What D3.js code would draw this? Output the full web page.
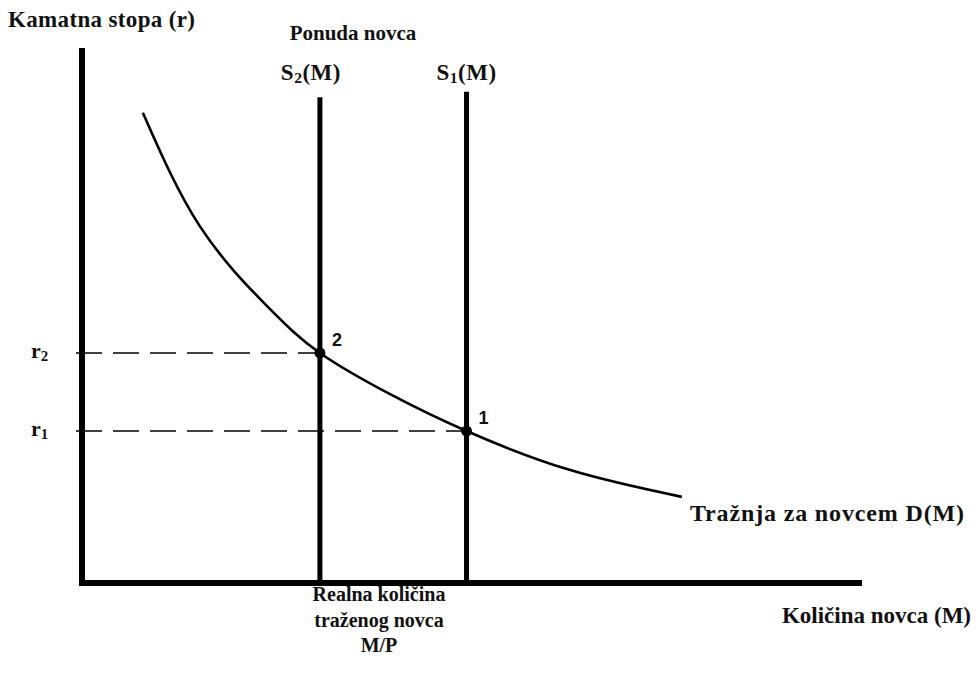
<!DOCTYPE html>
<html>
<head>
<meta charset="utf-8">
<script src="https://cdn.jsdelivr.net/npm/d3@7"></script>
<style>
  body { margin: 0; background: #fff; }
  svg { display: block; }
  text { font-family: "Liberation Serif", "Times New Roman", serif; font-weight: bold; fill: #111; }
</style>
</head>
<body>
<svg id="chart"></svg>
<script>
const W = 976;
const H = 680;

// money demand curve D(M) (quantity, rate)
const demandX = [0.78, 1.51, 2.37, 3.05, 3.95, 4.93, 6.26, 7.69];
const demandY = [8.79, 6.67, 5.18, 4.30, 3.53, 2.84, 2.11, 1.61];

// money supply lines
const supplyNames = ["S2(M)", "S1(M)"];
const supplyX = [3.05, 4.93];
const supplyTop = [9.08, 9.18];

// equilibria
const eqNames = ["2", "1"];
const eqX = [3.05, 4.93];
const eqY = [4.30, 2.84];
const rateLabels = ["r2", "r1"];

const fs = 21;

const svg = d3.select("#chart").attr("width", W).attr("height", H);

const x = d3.scaleLinear().domain([0, 10]).range([82, 862]);
const y = d3.scaleLinear().domain([0, 10]).range([583, 48]);

// Axes
svg.append("line")
  .attr("x1", x(0)).attr("x2", x(0))
  .attr("y1", y(10)).attr("y2", y(0) + 3)
  .attr("stroke", "#000").attr("stroke-width", 6);

svg.append("line")
  .attr("x1", x(0) - 3).attr("x2", x(10))
  .attr("y1", y(0)).attr("y2", y(0))
  .attr("stroke", "#000").attr("stroke-width", 6);

// Dashed guides
svg.selectAll("line.guide")
  .data(eqY)
  .join("line")
  .attr("class", "guide")
  .attr("x1", x(0) - 6)
  .attr("x2", (d, i) => x(eqX[i]))
  .attr("y1", d => y(d))
  .attr("y2", d => y(d))
  .attr("stroke", "#000")
  .attr("stroke-width", 1.6)
  .attr("stroke-dasharray", "26,11");

// Supply lines
svg.selectAll("line.supply")
  .data(supplyX)
  .join("line")
  .attr("class", "supply")
  .attr("x1", d => x(d)).attr("x2", d => x(d))
  .attr("y1", (d, i) => y(supplyTop[i]))
  .attr("y2", y(0))
  .attr("stroke", "#000")
  .attr("stroke-width", 5);

// Demand curve
const demand = demandX.map((d, i) => [d, demandY[i]]);
svg.append("path")
  .datum(demand)
  .attr("fill", "none")
  .attr("stroke", "#000")
  .attr("stroke-width", 2.6)
  .attr("d", d3.line().x(d => x(d[0])).y(d => y(d[1])).curve(d3.curveNatural));

// Equilibrium points
svg.selectAll("circle.eq")
  .data(eqX)
  .join("circle")
  .attr("class", "eq")
  .attr("cx", d => x(d))
  .attr("cy", (d, i) => y(eqY[i]))
  .attr("r", 5.5)
  .attr("fill", "#000");

svg.selectAll("text.eq")
  .data(eqNames)
  .join("text")
  .attr("class", "eq")
  .attr("x", (d, i) => x(eqX[i]) + 12)
  .attr("y", (d, i) => y(eqY[i]) - 7)
  .style("font-family", "Arial, 'Liberation Sans', sans-serif")
  .style("font-size", "18px")
  .text(d => d);

// helper for "X2(...)" style labels with a subscript digit
function subLabel(sel, base, sub, rest, size) {
  sel.append("tspan").text(base);
  sel.append("tspan").attr("dy", 3).style("font-size", (size * 0.68) + "px").text(sub);
  if (rest) sel.append("tspan").attr("dy", -3).text(rest);
}

// rate labels
rateLabels.forEach((r, i) => {
  const t = svg.append("text")
    .attr("x", 31)
    .attr("y", y(eqY[i]) + 5)
    .style("font-size", "22px");
  subLabel(t, r[0], r[1], null, 22);
});

// supply labels
supplyNames.forEach((s, i) => {
  const t = svg.append("text")
    .attr("x", x(supplyX[i]) - (i === 0 ? 9 : 0))
    .attr("y", 80)
    .attr("text-anchor", "middle")
    .style("font-size", "23px")
    .style("letter-spacing", "0.5px");
  subLabel(t, s[0], s[1], s.slice(2), 23);
});

// plain bold label, optionally stretched to the width seen in the picture
function label(txt, px, py, size, len, anchor) {
  const t = svg.append("text")
    .attr("x", px).attr("y", py)
    .attr("text-anchor", anchor || "start")
    .style("font-size", size + "px")
    .text(txt);
  if (len) t.attr("textLength", len).attr("lengthAdjust", "spacing");
  return t;
}

label("Kamatna stopa (r)", 8, 27, 23, 187);
label("Ponuda novca", 353, 40, 21, null, "middle");
label("Tražnja za novcem D(M)", 690, 521, 24, 274);
label("Količina novca (M)", 971, 623, 23, null, "end");

const mpLines = ["Realna količina", "traženog novca", "M/P"];
mpLines.forEach((t, i) => {
  label(t, 379, 601 + i * 25.5, 20, null, "middle");
});
</script>
</body>
</html>
